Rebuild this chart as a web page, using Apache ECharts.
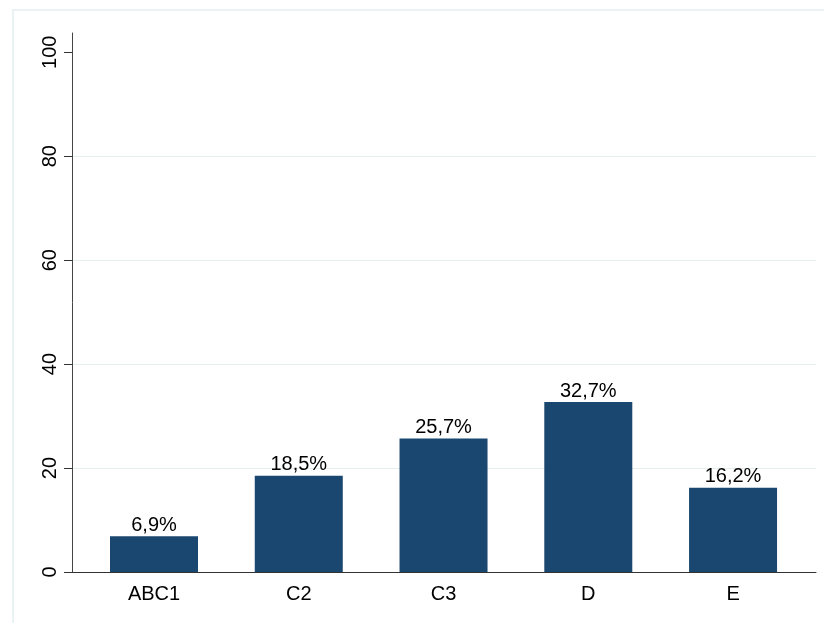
<!DOCTYPE html>
<html lang="en">
<head>
    <meta charset="UTF-8">
    <title>Bars</title>
    <script src="https://cdn.jsdelivr.net/npm/echarts@6/dist/echarts.min.js"></script>
    <style>
        html, body { margin: 0; padding: 0; background: #fff; }
    </style>
</head>
<body>
<div id="main" style="width:824px;height:623px;"></div>

<script type="text/javascript">
    // data
    var categories = ['ABC1', 'C2', 'C3', 'D', 'E'];
    var shares = [6.9, 18.5, 25.7, 32.7, 16.2];
    var yTicks = [0, 20, 40, 60, 80, 100];
    var gridValues = [20, 40, 60, 80];

    var myChart = echarts.init(document.getElementById('main'));

    var barData = [];
    for (var i = 0; i < shares.length; i++) {
        barData.push([i, shares[i]]);
    }
    var gridLines = [];
    for (var j = 0; j < gridValues.length; j++) {
        gridLines.push({ yAxis: gridValues[j] });
    }

    var font = '"Liberation Sans", Arial, Helvetica, sans-serif';

    var option = {
        backgroundColor: '#ffffff',
        animation: false,
        textStyle: { fontFamily: font },
        graphic: [{
            type: 'rect',
            shape: { x: 13, y: 10, width: 830, height: 640 },
            style: { fill: 'none', stroke: '#eaf2f3', lineWidth: 2 },
            silent: true
        }],
        grid: { left: 72, right: 8, top: 33, bottom: 51 },
        xAxis: {
            type: 'value',
            min: -0.5665,
            max: 4.573,
            axisLine: { show: true, onZero: false, lineStyle: { color: '#333', width: 1 } },
            axisTick: { show: false },
            splitLine: { show: false },
            axisLabel: {
                customValues: [0, 1, 2, 3, 4],
                formatter: function (v) { return categories[Math.round(v)] || ''; },
                color: '#000',
                fontSize: 20,
                margin: 12,
                fontFamily: font
            }
        },
        yAxis: {
            type: 'value',
            min: 0,
            max: 103.7,
            axisLine: { show: true, onZero: false, lineStyle: { color: '#444', width: 1 } },
            axisTick: { show: true, length: 8, customValues: yTicks, lineStyle: { color: '#333' } },
            splitLine: { show: false },
            axisLabel: {
                customValues: yTicks,
                rotate: 90,
                color: '#000',
                fontSize: 20,
                margin: 12,
                fontFamily: font
            }
        },
        series: [{
            type: 'bar',
            data: barData,
            barWidth: 88,
            itemStyle: { color: '#1a476f' },
            label: {
                show: true,
                position: 'top',
                distance: 1,
                color: '#000',
                fontSize: 20,
                fontFamily: font,
                formatter: function (p) {
                    return p.value[1].toFixed(1).replace('.', ',') + '%';
                }
            },
            markLine: {
                silent: true,
                symbol: 'none',
                label: { show: false },
                lineStyle: { color: '#e6eef0', width: 1, type: 'solid' },
                data: gridLines,
                z: 0
            },
            z: 3
        }]
    };
    myChart.setOption(option);
</script>

</body>
</html>
